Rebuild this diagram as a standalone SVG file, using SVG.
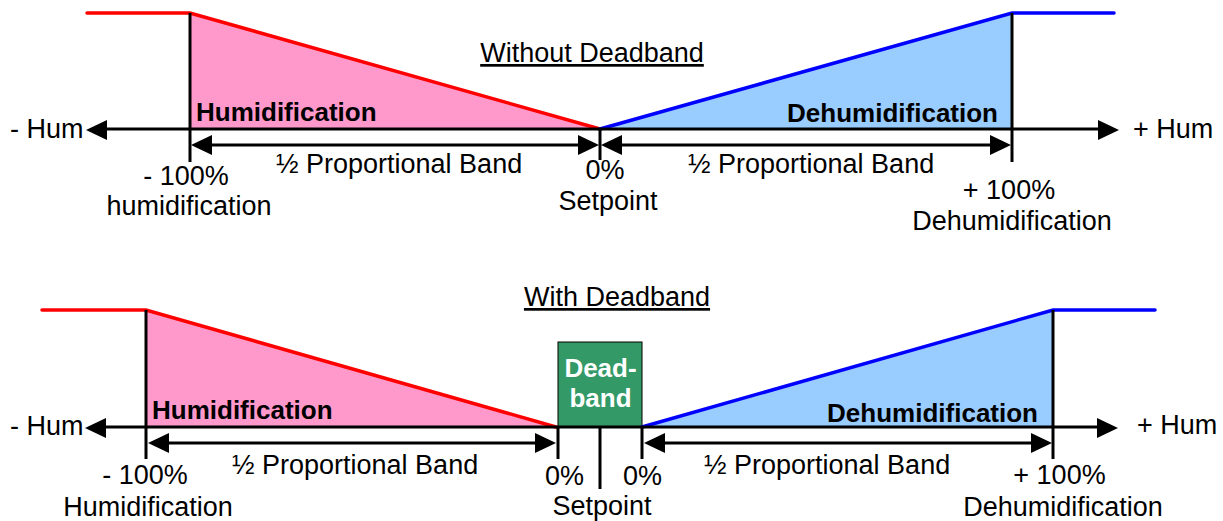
<svg xmlns="http://www.w3.org/2000/svg" width="1223" height="521" viewBox="0 0 1223 521">
<style>
text{font-family:"Liberation Sans",Arial,sans-serif;font-size:27px;fill:#000}
.b{font-weight:bold;font-size:26px}
.w{fill:#fff}
.m{text-anchor:middle}
.e{text-anchor:end}
.u{text-decoration:underline}
.k{stroke:#000;stroke-width:3;fill:none}
.r{stroke:#f00;stroke-width:3.5;fill:none;stroke-linecap:round}
.bl{stroke:#00f;stroke-width:3.5;fill:none;stroke-linecap:round}
.ah{fill:#000}
</style>
<defs>
<polygon id="aL" points="0,0 21,-10 21,10" class="ah"/>
<polygon id="aR" points="0,0 -21,-10 -21,10" class="ah"/>
</defs>

<g id="top-diagram">
 <g id="top-humidification">
  <polygon points="190,13 600,129 190,129" fill="#FF99CC"/>
  <polyline class="r" points="87,13 190,13 600,129"/>
  <text class="b" x="196" y="121">Humidification</text>
 </g>
 <g id="top-dehumidification">
  <polygon points="600,129 1012,13 1012,129" fill="#99CCFF"/>
  <polyline class="bl" points="600,129 1012,13 1114,13"/>
  <text class="b e" x="998" y="122">Dehumidification</text>
 </g>
 <g id="top-connectors">
  <line class="k" x1="100" y1="129" x2="1105" y2="129"/>
  <use href="#aL" x="86" y="130"/>
  <use href="#aR" x="1119" y="130"/>
  <line class="k" x1="190" y1="13" x2="190" y2="162"/>
  <line class="k" x1="1012" y1="13" x2="1012" y2="162"/>
  <line class="k" x1="600" y1="129" x2="600" y2="160"/>
  <line class="k" x1="205" y1="145" x2="585" y2="145"/>
  <use href="#aL" x="191" y="145"/>
  <use href="#aR" x="599" y="145"/>
  <line class="k" x1="615" y1="145" x2="997" y2="145"/>
  <use href="#aL" x="601" y="145"/>
  <use href="#aR" x="1011" y="145"/>
 </g>
 <g id="top-labels">
  <text class="m u" x="592" y="62">Without Deadband</text>
  <text x="10" y="138">- Hum</text>
  <text x="1133" y="138">+ Hum</text>
  <text x="276" y="173">½ Proportional Band</text>
  <text x="688" y="173">½ Proportional Band</text>
  <text class="m" x="186" y="185">- 100%</text>
  <text class="m" x="189" y="215">humidification</text>
  <text class="m" x="605" y="179">0%</text>
  <text class="m" x="608" y="210">Setpoint</text>
  <text class="m" x="1009" y="199">+ 100%</text>
  <text class="m" x="1012" y="230">Dehumidification</text>
 </g>
</g>

<g id="bottom-diagram">
 <g id="bottom-humidification">
  <polygon points="146,310 556,427 146,427" fill="#FF99CC"/>
  <polyline class="r" points="42,310 146,310 556,427"/>
  <text class="b" x="152" y="419">Humidification</text>
 </g>
 <g id="deadband">
  <rect x="558" y="342" width="84" height="85" fill="#339966" stroke="#000" stroke-width="1"/>
  <text class="b w m" x="600.5" y="377">Dead-</text>
  <text class="b w m" x="600.5" y="407">band</text>
 </g>
 <g id="bottom-dehumidification">
  <polygon points="642,427 1053,310 1053,427" fill="#99CCFF"/>
  <polyline class="bl" points="642,427 1053,310 1155,310"/>
  <text class="b e" x="1038" y="422">Dehumidification</text>
 </g>
 <g id="bottom-connectors">
  <line class="k" x1="100" y1="427" x2="1105" y2="427"/>
  <use href="#aL" x="85" y="428"/>
  <use href="#aR" x="1118" y="428"/>
  <line class="k" x1="146" y1="310" x2="146" y2="459"/>
  <line class="k" x1="1053" y1="310" x2="1053" y2="459"/>
  <line class="k" x1="558" y1="427" x2="558" y2="459"/>
  <line class="k" x1="642" y1="427" x2="642" y2="459"/>
  <line class="k" x1="600" y1="427" x2="600" y2="489"/>
  <line class="k" x1="162" y1="443" x2="542" y2="443"/>
  <use href="#aL" x="148" y="443"/>
  <use href="#aR" x="556" y="443"/>
  <line class="k" x1="658" y1="443" x2="1038" y2="443"/>
  <use href="#aL" x="644" y="443"/>
  <use href="#aR" x="1052" y="443"/>
 </g>
 <g id="bottom-labels">
  <text class="m u" x="617" y="306">With Deadband</text>
  <text x="10" y="435">- Hum</text>
  <text x="1137" y="434">+ Hum</text>
  <text x="232" y="474">½ Proportional Band</text>
  <text x="704" y="474">½ Proportional Band</text>
  <text class="m" x="145" y="484">- 100%</text>
  <text class="m" x="148" y="516">Humidification</text>
  <text class="m" x="564.5" y="485">0%</text>
  <text class="m" x="642.5" y="485">0%</text>
  <text class="m" x="602" y="515">Setpoint</text>
  <text class="m" x="1059.5" y="484">+ 100%</text>
  <text class="m" x="1063" y="516">Dehumidification</text>
 </g>
</g>
</svg>
